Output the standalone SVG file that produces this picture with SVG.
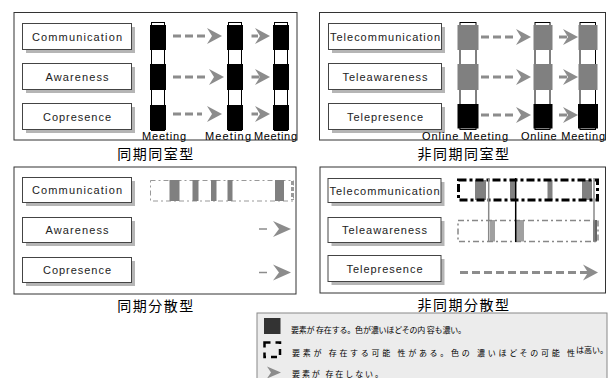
<svg xmlns="http://www.w3.org/2000/svg" width="608" height="378" viewBox="0 0 608 378">
<defs>
<style>
.frame{fill:#fff;stroke:#333;stroke-width:1}
.box{fill:#fff;stroke:#444;stroke-width:1}
.shadow{fill:#b5b5b5}
.lbl{font-family:"Liberation Sans",Arial,sans-serif;font-size:11px;fill:#222;text-anchor:middle}
.mt{font-family:"Liberation Sans",Arial,sans-serif;font-size:11px;fill:#000;text-anchor:middle}
.title{font-family:"Noto Sans CJK JP","Noto Sans CJK SC",sans-serif;font-size:14px;letter-spacing:1.5px;fill:#000;text-anchor:middle}
.leg{font-family:"Noto Sans CJK JP","Noto Sans CJK SC",sans-serif;font-size:8px;fill:#000}
.col{fill:#fff;stroke:#000;stroke-width:1}
.blk{fill:#000}
.gry{fill:#808080}
.dash{stroke:#8c8c8c;stroke-width:3;stroke-dasharray:8 4;fill:none}
.head{fill:#8c8c8c}
</style>
<path id="ah" d="M0,0 L-15,-8 L-10,0 L-15,8 Z"/>
</defs>

<!-- Panel frames -->
<rect class="frame" x="14" y="12.5" width="283" height="127.5"/>
<rect class="frame" x="319.5" y="12.5" width="286" height="127.5"/>
<rect class="frame" x="14" y="167" width="282" height="127"/>
<rect class="frame" x="320" y="167" width="285.5" height="126"/>

<!-- Panel 1 nodes -->
<g id="p1-communication"><rect class="shadow" x="26" y="27" width="109" height="26"/><rect class="box" x="22.5" y="23.5" width="109" height="26"/><text class="lbl" x="77" y="41" textLength="90" lengthAdjust="spacing">Communication</text></g>
<g id="p1-awareness"><rect class="shadow" x="26" y="67" width="109" height="26"/><rect class="box" x="22.5" y="63.5" width="109" height="26"/><text class="lbl" x="77" y="81" textLength="63" lengthAdjust="spacing">Awareness</text></g>
<g id="p1-copresence"><rect class="shadow" x="26" y="107" width="109" height="26"/><rect class="box" x="22.5" y="103.5" width="109" height="26"/><text class="lbl" x="77" y="121" textLength="68" lengthAdjust="spacing">Copresence</text></g>

<g id="p1-meeting1"><rect class="col" x="151.5" y="22.5" width="13" height="108"/><rect class="blk" x="150" y="25" width="16" height="25"/><rect class="blk" x="150" y="64" width="16" height="26"/><rect class="blk" x="150" y="105" width="16" height="25"/><text class="mt" x="164" y="140" textLength="44" lengthAdjust="spacing">Meeting</text></g>
<g id="p1-meeting2"><rect class="col" x="228.5" y="22.5" width="13" height="108"/><rect class="blk" x="227" y="25" width="16" height="25"/><rect class="blk" x="227" y="64" width="16" height="26"/><rect class="blk" x="227" y="105" width="16" height="25"/><text class="mt" x="228" y="139.5" textLength="46" lengthAdjust="spacing">Meeting</text></g>
<g id="p1-meeting3"><rect class="col" x="274.5" y="22.5" width="13" height="108"/><rect class="blk" x="273" y="25" width="16" height="25"/><rect class="blk" x="273" y="64" width="16" height="26"/><rect class="blk" x="273" y="105" width="16" height="25"/><text class="mt" x="275.5" y="139.5" textLength="43" lengthAdjust="spacing">Meeting</text></g>
<text class="title" x="156" y="159">同期同室型</text>

<!-- Panel 2 nodes -->
<g id="p2-telecommunication"><rect class="shadow" x="332" y="27" width="113" height="26"/><rect class="box" x="328.5" y="23.5" width="113" height="26"/><text class="lbl" x="385" y="41" textLength="110" lengthAdjust="spacing">Telecommunication</text></g>
<g id="p2-teleawareness"><rect class="shadow" x="332" y="67" width="113" height="26"/><rect class="box" x="328.5" y="63.5" width="113" height="26"/><text class="lbl" x="385" y="81" textLength="85" lengthAdjust="spacing">Teleawareness</text></g>
<g id="p2-telepresence"><rect class="shadow" x="332" y="107" width="113" height="26"/><rect class="box" x="328.5" y="103.5" width="113" height="26"/><text class="lbl" x="385" y="121" textLength="76" lengthAdjust="spacing">Telepresence</text></g>

<g id="p2-online1"><rect class="col" x="460" y="22.5" width="16" height="107"/><rect class="gry" x="457.5" y="25" width="21" height="25"/><rect class="gry" x="457.5" y="64" width="21" height="26"/><rect class="blk" x="457.5" y="104" width="21" height="24.5"/><text class="mt" x="465" y="140" textLength="86" lengthAdjust="spacing">Online Meeting</text></g>
<g id="p2-online2"><rect class="col" x="535" y="22.5" width="15" height="107"/><rect class="gry" x="533.5" y="25" width="19" height="25"/><rect class="gry" x="533.5" y="64" width="19" height="26"/><rect class="blk" x="533.5" y="104" width="19" height="24.5"/><text class="mt" x="563" y="139.5" textLength="84" lengthAdjust="spacing">Online Meeting</text></g>
<g id="p2-online3"><rect class="col" x="580" y="22.5" width="15.5" height="107"/><rect class="gry" x="578.5" y="25" width="19" height="25"/><rect class="gry" x="578.5" y="64" width="19" height="26"/><rect class="blk" x="578" y="104" width="20" height="24.5"/></g>
<text class="title" x="464" y="159">非同期同室型</text>

<!-- Panel 3 nodes -->
<g id="p3-communication"><rect class="shadow" x="26" y="181" width="109" height="25"/><rect class="box" x="22.5" y="177.5" width="109" height="25"/><text class="lbl" x="77" y="194" textLength="90" lengthAdjust="spacing">Communication</text></g>
<g id="p3-awareness"><rect class="shadow" x="26" y="221" width="109" height="25"/><rect class="box" x="22.5" y="217.5" width="109" height="25"/><text class="lbl" x="77" y="234" textLength="63" lengthAdjust="spacing">Awareness</text></g>
<g id="p3-copresence"><rect class="shadow" x="26" y="261" width="109" height="25"/><rect class="box" x="22.5" y="257.5" width="109" height="25"/><text class="lbl" x="77" y="274" textLength="68" lengthAdjust="spacing">Copresence</text></g>
<g id="p3-timeline">
<rect x="150.5" y="180.5" width="143" height="20.5" fill="none" stroke="#999" stroke-width="1" stroke-dasharray="5 3 2 3"/>
<rect class="gry" x="169.5" y="180" width="10" height="21"/>
<rect class="gry" x="192.5" y="180" width="6" height="21"/>
<rect class="gry" x="211" y="180" width="5.5" height="21"/>
<rect class="gry" x="227.5" y="180" width="5" height="21"/>
<rect class="gry" x="275" y="180" width="9" height="21"/>
<line x1="292.5" y1="181" x2="292.5" y2="200" stroke="#999" stroke-width="3" stroke-dasharray="4 2"/>
</g>
<text class="title" x="156" y="311">同期分散型</text>

<!-- Panel 4 nodes -->
<g id="p4-telecommunication"><rect class="shadow" x="331.5" y="182" width="113" height="24"/><rect class="box" x="328" y="178.5" width="113" height="24"/><text class="lbl" x="384.5" y="195" textLength="110" lengthAdjust="spacing">Telecommunication</text></g>
<g id="p4-teleawareness"><rect class="shadow" x="331.5" y="221" width="113" height="25"/><rect class="box" x="328" y="217.5" width="113" height="25"/><text class="lbl" x="384.5" y="234" textLength="85" lengthAdjust="spacing">Teleawareness</text></g>
<g id="p4-telepresence"><rect class="shadow" x="331.5" y="259" width="113" height="26"/><rect class="box" x="328" y="255.5" width="113" height="26"/><text class="lbl" x="384.5" y="273" textLength="76" lengthAdjust="spacing">Telepresence</text></g>
<g id="p4-timeline">
<rect class="gry" x="475" y="180" width="11" height="20"/>
<rect class="gry" x="510" y="180" width="5" height="20"/>
<rect class="gry" x="547.5" y="180" width="5" height="20"/>
<rect class="gry" x="582" y="180" width="10" height="20"/>
<rect x="458.5" y="180" width="139" height="20" fill="none" stroke="#000" stroke-width="3" stroke-dasharray="8 3 3 3"/>
<rect fill="#a0a0a0" x="490" y="220" width="5" height="21.5"/>
<rect fill="#a0a0a0" x="516" y="220" width="8" height="21.5"/>
<rect fill="#666" x="593" y="220" width="4" height="21.5"/>
<rect x="458" y="220.5" width="140" height="21" fill="none" stroke="#888" stroke-width="1.5" stroke-dasharray="6 3 2 3"/>
<line x1="488.7" y1="178" x2="488.7" y2="242" stroke="#888" stroke-width="1.5"/>
<line x1="515.7" y1="178" x2="515.7" y2="242" stroke="#000" stroke-width="1.5"/>
<line x1="594" y1="178" x2="594" y2="242" stroke="#888" stroke-width="1.5"/>
</g>
<text class="title" x="464" y="310">非同期分散型</text>

<!-- Connectors -->
<g id="connectors">
<line class="dash" x1="173" y1="36" x2="206" y2="36"/><use href="#ah" class="head" x="222" y="36"/>
<line class="dash" x1="173" y1="77" x2="208" y2="77"/><use href="#ah" class="head" x="224" y="77"/>
<line class="dash" x1="173" y1="114" x2="202" y2="114"/><use href="#ah" class="head" x="222" y="114"/>
<line class="dash" x1="251.5" y1="36" x2="258" y2="36" stroke-dasharray="5 3"/><use href="#ah" class="head" x="270" y="36"/>
<line class="dash" x1="251.5" y1="77" x2="260" y2="77"/><use href="#ah" class="head" x="270" y="77"/>
<line class="dash" x1="251.5" y1="114" x2="258" y2="114" stroke-dasharray="5 3"/><use href="#ah" class="head" x="270" y="114"/>

<line class="dash" x1="481" y1="37" x2="516" y2="37"/><use href="#ah" class="head" x="531" y="37"/>
<line class="dash" x1="481" y1="77" x2="516" y2="77"/><use href="#ah" class="head" x="531" y="77"/>
<line class="dash" x1="481" y1="115" x2="516" y2="115"/><use href="#ah" class="head" x="531" y="115"/>
<line class="dash" x1="559" y1="37" x2="568" y2="37" stroke-dasharray="none"/><use href="#ah" class="head" x="578" y="37"/>
<line class="dash" x1="559" y1="77" x2="568" y2="77" stroke-dasharray="none"/><use href="#ah" class="head" x="578" y="77"/>
<line class="dash" x1="559" y1="115" x2="568" y2="115" stroke-dasharray="none"/><use href="#ah" class="head" x="578" y="115"/>

<line x1="259" y1="229" x2="267" y2="229" stroke="#8c8c8c" stroke-width="1.5"/><use href="#ah" class="head" x="291" y="229" transform="translate(291 229) scale(1.2 1) translate(-291 -229)"/>
<line x1="259" y1="272.5" x2="267" y2="272.5" stroke="#8c8c8c" stroke-width="1.5"/><use href="#ah" class="head" x="291" y="272.5" transform="translate(291 272.5) scale(1.2 1) translate(-291 -272.5)"/>
<line class="dash" x1="460" y1="272.5" x2="588" y2="272.5" stroke-dasharray="9 3"/><use href="#ah" class="head" x="598" y="272.5"/>
</g>

<!-- Legend -->
<g id="legend">
<rect x="257" y="313" width="350" height="68" fill="#ececec" stroke="#888" stroke-width="1"/>
<rect x="264" y="318" width="16.5" height="16" fill="#333"/>
<text class="leg" x="291" y="333" textLength="175" lengthAdjust="spacing">要素が 存在する。色が濃いほどその内 容も濃い。</text>
<rect x="264.5" y="342.5" width="15.5" height="14.5" fill="none" stroke="#000" stroke-width="2.5" stroke-dasharray="6 5"/>
<text class="leg" x="292" y="355.5" font-size="9.5px" textLength="283" lengthAdjust="spacing">要素が 存在する可能 性がある。色の 濃いほどその可能 性</text>
<text class="leg" x="576" y="353" font-size="6px">は高い。</text>
<path d="M281,372.5 L267,366.5 L271,372.5 L267,378.5 Z" fill="#8c8c8c"/>
<text class="leg" x="292" y="376.5" textLength="91" lengthAdjust="spacing">要素が 存在しない。</text>
</g>
</svg>
